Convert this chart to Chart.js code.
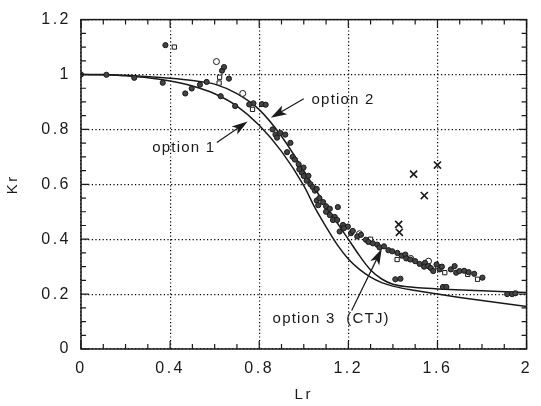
<!DOCTYPE html>
<html lang="en">
<head>
<meta charset="UTF-8">
<title>Kr vs Lr</title>
<style>
  html, body { margin: 0; padding: 0; background: #fff; }
</style>
</head>
<body>
<canvas id="chart" width="541" height="406"></canvas>
<script src="https://cdn.jsdelivr.net/npm/chart.js@4.4.0/dist/chart.umd.min.js"></script>
<script>
// option 1 curve (steep one)
const opt1Lr = [0, 0.1, 0.2, 0.3, 0.4, 0.5, 0.6, 0.7, 0.8, 0.9, 1.0, 1.05, 1.1, 1.15, 1.2, 1.25, 1.3, 1.35, 1.4, 1.5, 1.6, 1.7, 1.8, 1.9, 2.0];
const opt1Kr = [1.0, 1.0, 0.995, 0.988, 0.976, 0.958, 0.93, 0.885, 0.815, 0.72, 0.595, 0.515, 0.445, 0.38, 0.328, 0.29, 0.262, 0.242, 0.229, 0.213, 0.2, 0.188, 0.177, 0.166, 0.155];

// option 2 curve
const opt2Lr = [0, 0.2, 0.4, 0.5, 0.6, 0.7, 0.8, 0.9, 1.0, 1.1, 1.2, 1.25, 1.3, 1.35, 1.4, 1.5, 1.6, 1.8, 2.0];
const opt2Kr = [1.0, 0.997, 0.986, 0.978, 0.965, 0.93, 0.872, 0.775, 0.65, 0.52, 0.4, 0.34, 0.288, 0.255, 0.236, 0.224, 0.219, 0.212, 0.206];

// option 3 (CTJ) test points, filled circles
const dotLr = [0, 0.114, 0.239, 0.367, 0.379, 0.468, 0.497, 0.534, 0.564, 0.633, 0.642, 0.664, 0.627, 0.692, 0.755, 0.774,
  0.812, 0.829, 0.86, 0.873, 0.88, 0.895, 0.917, 0.94, 0.925, 0.95, 0.96, 0.977, 0.999, 0.991, 0.98, 1.0, 1.021, 1.013,
  1.03, 1.04, 1.05, 1.058, 1.058, 1.087, 1.065, 1.07, 1.1, 1.117, 1.153, 1.1, 1.117, 1.139, 1.131, 1.15, 1.176, 1.198,
  1.161, 1.18, 1.212, 1.22, 1.24, 1.257, 1.279, 1.29, 1.31, 1.33, 1.34, 1.36, 1.38, 1.397, 1.42, 1.44, 1.456, 1.46,
  1.478, 1.5, 1.52, 1.544, 1.54, 1.559, 1.57, 1.581, 1.596, 1.61, 1.62, 1.66, 1.677, 1.684, 1.699, 1.72, 1.74, 1.765,
  1.802, 1.411, 1.434, 1.625, 1.64, 1.913, 1.935, 1.95];
const dotKr = [1.0, 0.999, 0.988, 0.970, 1.107, 0.931, 0.949, 0.963, 0.973, 1.014, 1.027, 0.985, 0.921, 0.885, 0.891, 0.895,
  0.892, 0.89, 0.8, 0.781, 0.77, 0.787, 0.781, 0.751, 0.717, 0.7, 0.69, 0.673, 0.661, 0.643, 0.655, 0.63, 0.631, 0.613,
  0.6, 0.59, 0.577, 0.583, 0.541, 0.535, 0.524, 0.55, 0.52, 0.511, 0.517, 0.5, 0.488, 0.481, 0.47, 0.47, 0.452, 0.446,
  0.428, 0.44, 0.422, 0.43, 0.41, 0.416, 0.398, 0.39, 0.385, 0.38, 0.37, 0.374, 0.36, 0.356, 0.35, 0.34, 0.344, 0.33,
  0.326, 0.32, 0.31, 0.314, 0.3, 0.302, 0.295, 0.284, 0.308, 0.29, 0.3, 0.29, 0.302, 0.278, 0.284, 0.285, 0.28, 0.274,
  0.26, 0.254, 0.256, 0.226, 0.226, 0.2, 0.2, 0.203];

// open squares
const sqLr = [0.419, 0.622, 0.62, 0.77, 1.3, 1.419, 1.6, 1.633, 1.736, 1.78];
const sqKr = [1.10, 0.99, 0.969, 0.873, 0.4, 0.326, 0.3, 0.278, 0.272, 0.254];

// open circles
const ringLr = [0.608, 0.726, 1.25, 1.48, 1.56];
const ringKr = [1.047, 0.931, 0.42, 0.33, 0.32];

// crosses
const crossLr = [1.493, 1.6, 1.541, 1.426, 1.429];
const crossKr = [0.637, 0.67, 0.559, 0.454, 0.425];

const xTicks = [0, 0.4, 0.8, 1.2, 1.6, 2];
const yTicks = [0, 0.2, 0.4, 0.6, 0.8, 1, 1.2];

function pts(xs, ys) {
  return xs.map((x, i) => ({ x: x, y: ys[i] }));
}
function isMajor(v, list) {
  return list.some(t => Math.abs(t - v) < 1e-6);
}

const INK = '#1a1a1a';
const FONT = 'Liberation Sans, Arial, sans-serif';

// labels and arrows, in data units
const notes = [
  { text: 'option 1', x: 0.32, y: 0.733, fx: 0.61, fy: 0.752, tx: 0.748, ty: 0.829 },
  { text: 'option 2', x: 1.035, y: 0.909, fx: 1.0, fy: 0.912, tx: 0.852, ty: 0.842 },
  { text: 'option 3  (CTJ)', x: 0.86, y: 0.111, fx: 1.215, fy: 0.14, tx: 1.35, ty: 0.365 }
];

const frame = {
  id: 'frame',
  beforeDraw(chart) {
    chart.ctx.letterSpacing = '2.5px';
  },
  afterDraw(chart) {
    const { ctx, chartArea: a } = chart;
    const xs = chart.scales.x, ys = chart.scales.y;
    ctx.save();
    ctx.letterSpacing = '0px';
    ctx.strokeStyle = INK;
    ctx.lineWidth = 1.5;
    ctx.strokeRect(a.left, a.top, a.right - a.left, a.bottom - a.top);
    ctx.lineWidth = 1.2;
    ctx.beginPath();
    xs.ticks.forEach(t => {
      const px = xs.getPixelForValue(t.value);
      const len = isMajor(t.value, xTicks) ? 8 : 5;
      ctx.moveTo(px, a.bottom); ctx.lineTo(px, a.bottom - len);
      ctx.moveTo(px, a.top); ctx.lineTo(px, a.top + len);
    });
    ys.ticks.forEach(t => {
      const py = ys.getPixelForValue(t.value);
      const len = isMajor(t.value, yTicks) ? 8 : 5;
      ctx.moveTo(a.left, py); ctx.lineTo(a.left + len, py);
      ctx.moveTo(a.right, py); ctx.lineTo(a.right - len, py);
    });
    ctx.stroke();

    // annotations
    ctx.font = '15px ' + FONT;
    ctx.letterSpacing = '1.2px';
    ctx.fillStyle = INK;
    ctx.textBaseline = 'middle';
    notes.forEach(n => {
      ctx.fillText(n.text, xs.getPixelForValue(n.x), ys.getPixelForValue(n.y));
      const x1 = xs.getPixelForValue(n.fx), y1 = ys.getPixelForValue(n.fy);
      const x2 = xs.getPixelForValue(n.tx), y2 = ys.getPixelForValue(n.ty);
      const ang = Math.atan2(y2 - y1, x2 - x1);
      const hl = 16, hw = 5;
      ctx.lineWidth = 1.2;
      ctx.beginPath();
      ctx.moveTo(x1, y1);
      ctx.lineTo(x2 - Math.cos(ang) * hl * 0.7, y2 - Math.sin(ang) * hl * 0.7);
      ctx.stroke();
      ctx.beginPath();
      ctx.moveTo(x2, y2);
      ctx.lineTo(x2 - Math.cos(ang) * hl - Math.sin(ang) * hw, y2 - Math.sin(ang) * hl + Math.cos(ang) * hw);
      ctx.lineTo(x2 - Math.cos(ang) * hl * 0.75, y2 - Math.sin(ang) * hl * 0.75);
      ctx.lineTo(x2 - Math.cos(ang) * hl + Math.sin(ang) * hw, y2 - Math.sin(ang) * hl - Math.cos(ang) * hw);
      ctx.closePath();
      ctx.fill();
    });
    ctx.restore();
  }
};

const gridStyle = {
  color: ctx => (ctx.tick && isMajor(ctx.tick.value, ctx.scale.axis === 'x' ? xTicks : yTicks)) ? '#000' : 'rgba(0,0,0,0)',
  lineWidth: 1.2,
  drawTicks: false
};

new Chart(document.getElementById('chart'), {
  type: 'scatter',
  data: {
    datasets: [
      { label: 'option 3 (CTJ)', data: pts(dotLr, dotKr), pointStyle: 'circle', pointRadius: 2.6,
        backgroundColor: '#444', borderColor: INK, borderWidth: 1 },
      { label: 'squares', data: pts(sqLr, sqKr), pointStyle: 'rect', pointRadius: 3,
        backgroundColor: '#fff', borderColor: INK, borderWidth: 1 },
      { label: 'rings', data: pts(ringLr, ringKr), pointStyle: 'circle', pointRadius: 3,
        backgroundColor: '#fff', borderColor: INK, borderWidth: 1 },
      { label: 'crosses', data: pts(crossLr, crossKr), pointStyle: 'crossRot', pointRadius: 5,
        borderColor: INK, borderWidth: 1.6 },
      { label: 'option 1', data: pts(opt1Lr, opt1Kr), showLine: true, pointRadius: 0,
        borderColor: INK, borderWidth: 1.5, cubicInterpolationMode: 'monotone' },
      { label: 'option 2', data: pts(opt2Lr, opt2Kr), showLine: true, pointRadius: 0,
        borderColor: INK, borderWidth: 1.5, cubicInterpolationMode: 'monotone' }
    ]
  },
  options: {
    responsive: false,
    animation: false,
    layout: { padding: { left: 0, right: 8, top: 15, bottom: 0 } },
    plugins: { legend: { display: false }, tooltip: { enabled: false } },
    scales: {
      x: {
        type: 'linear', min: 0, max: 2,
        afterFit: s => { s.height = 57; },
        grid: gridStyle,
        border: { display: false, dash: [1.2, 2.4] },
        ticks: {
          stepSize: 0.1, autoSkip: false, maxRotation: 0, padding: 10,
          color: INK, font: { family: FONT, size: 16 },
          callback: v => isMajor(v, xTicks) ? String(Math.round(v * 10) / 10) : ''
        },
        title: { display: true, text: 'Lr', color: INK, font: { family: FONT, size: 15 }, padding: { top: 0, bottom: 2 } }
      },
      y: {
        type: 'linear', min: 0, max: 1.2,
        afterFit: s => { s.width = 81; },
        grid: gridStyle,
        border: { display: false, dash: [1.2, 2.4] },
        ticks: {
          stepSize: 0.05, autoSkip: false, padding: 10,
          color: INK, font: { family: FONT, size: 16 },
          callback: v => isMajor(v, yTicks) ? String(Math.round(v * 10) / 10) : ''
        },
        title: { display: true, text: 'Kr', color: INK, font: { family: FONT, size: 15 }, padding: { top: 4, bottom: 0 } }
      }
    }
  },
  plugins: [frame]
});
</script>
</body>
</html>
